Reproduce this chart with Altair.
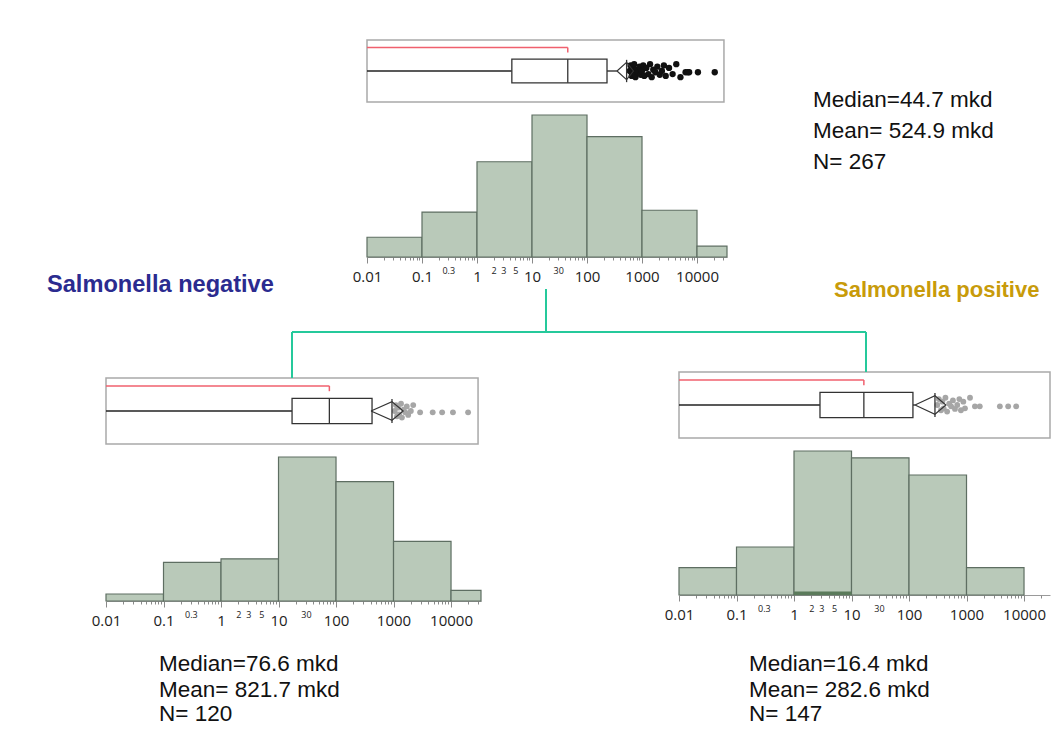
import altair as alt
import pandas as pd

W, H = 1044, 719
M = 8  # page margin

# ---------------- data ----------------
bin_lo = [0.01, 0.1, 1, 10, 100, 1000, 10000]
bin_hi = [0.1, 1, 10, 100, 1000, 10000, 100000]
counts_all = [11, 25, 53, 79, 67, 26, 6]
counts_neg = [2, 11, 12, 41, 34, 17, 3]
counts_pos = [8, 14, 42, 40, 35, 8, 0]
counts_pos_sel = [0, 0, 1, 0, 0, 0, 0]

major_ticks = [0.01, 0.1, 1, 10, 100, 1000, 10000]
minor_mult = [2, 3, 4, 5, 6, 7, 8, 9]
small_labels = [0.3, 2, 3, 5, 30]

# min, q1, median, q3, upper whisker, mean-diamond low, mean, mean-diamond high
box_keys = ["mn", "q1", "med", "q3", "whi", "cil", "mean", "cih"]
box_all = [0.005, 4.3, 44.7, 231, 351, 351, 524.9, 699]
box_neg = [0.005, 17.2, 76.6, 423, 423, 406, 940, 1474]
box_pos = [0.005, 2.83, 16.4, 117, 127, 127, 282.6, 438]

out_all = [600, 620, 650, 680, 700, 720, 760, 800, 850, 900, 950, 1000, 1050, 1100,
           1200, 1300, 1400, 1500, 1600, 1750, 1900, 2100, 2300, 2500, 2700, 3100,
           3600, 4200, 5000, 6200, 6800, 7200, 10400, 21000]
out_neg = [1050, 1100, 1150, 1200, 1250, 1350, 1400, 1500, 1600, 1700, 1800, 2000,
           2200, 2900, 4800, 7000, 10800, 19800]
out_pos = [310, 330, 360, 380, 400, 430, 460, 500, 540, 580, 630, 690, 750, 800, 880,
           940, 1150, 1400, 1700, 3800, 5300, 7300]

stats_all = ["Median=44.7 mkd", "Mean= 524.9 mkd", "N= 267"]
stats_neg = ["Median=76.6 mkd", "Mean= 821.7 mkd", "N= 120"]
stats_pos = ["Median=16.4 mkd", "Mean= 282.6 mkd", "N= 147"]

title_neg = "Salmonella negative"
title_pos = "Salmonella positive"

# ---------------- styles ----------------
HIST_FILL = "#B9C9B9"
HIST_STROKE = "#5E6E62"
SEL_FILL = "#5B7B5B"
RED = "#F0606E"
TEAL = "#25C99B"
AXIS_FONT = "Open Sans"
TEXT_FONT = "Liberation Sans"
JIT = [0, 0.09, -0.08, 0.05, -0.05, 0.11, -0.1, 0.02, -0.02, 0.07, -0.06]


def panel(counts, sel_counts, box, outs, n_cluster, dmax, px0, px1, base, top,
          fb, ft, frame_right, pt_color, pt_size):
    xr = [px0 - M, px1 - M]

    def xs():
        return alt.Scale(type="log", domain=[0.01, dmax], range=xr,
                         clamp=True, nice=False)

    ys_h = alt.Scale(domain=[0, max(counts)], range=[base - M, top - M], nice=False)
    ys_b = alt.Scale(domain=[0, 1], range=[fb - M, ft - M], nice=False)
    off = base - M - H
    ax_common = dict(orient="bottom", offset=off, grid=False, title=None,
                     labelFlush=False, labelOverlap=False, labelBound=False,
                     domainColor="#9A9A9A", tickColor="#8A8A8A")
    minor = [m * d for d in major_ticks for m in minor_mult if m * d <= dmax]

    layers = []
    hist_df = pd.DataFrame({"lo": bin_lo, "hi": bin_hi, "count": counts, "zero": 0})
    hist_df = hist_df[hist_df["count"] > 0]
    layers.append(
        alt.Chart(hist_df).mark_rect(fill=HIST_FILL, stroke=HIST_STROKE, strokeWidth=1.2)
        .encode(
            x=alt.X("lo:Q", scale=xs(), axis=alt.Axis(
                values=major_ticks, labelExpr="format(datum.value, '~g')",
                tickSize=6, labelFontSize=15, labelFont=AXIS_FONT,
                labelColor="#222222", labelPadding=6, **ax_common)),
            x2="hi:Q",
            y=alt.Y("count:Q", scale=ys_h, axis=None),
            y2="zero:Q",
        )
    )
    sel_df = pd.DataFrame({"lo": bin_lo, "hi": bin_hi, "count": sel_counts, "zero": 0})
    sel_df = sel_df[sel_df["count"] > 0]
    if len(sel_df):
        layers.append(
            alt.Chart(sel_df).mark_rect(fill=SEL_FILL).encode(
                x=alt.X("lo:Q", scale=xs(), axis=None), x2="hi:Q",
                y=alt.Y("count:Q", scale=ys_h, axis=None), y2="zero:Q")
        )
    layers.append(
        alt.Chart(pd.DataFrame({"t": minor})).mark_tick(opacity=0).encode(
            x=alt.X("t:Q", scale=xs(), axis=alt.Axis(
                values=minor, labels=False, domain=False, tickSize=3, **ax_common)))
    )
    layers.append(
        alt.Chart(pd.DataFrame({"t": small_labels})).mark_tick(opacity=0).encode(
            x=alt.X("t:Q", scale=xs(), axis=alt.Axis(
                values=small_labels, labelExpr="format(datum.value, '~g')",
                ticks=False, domain=False, labelFontSize=9, labelFont=AXIS_FONT,
                labelColor="#222222", labelPadding=9, **ax_common)))
    )

    bdf = pd.DataFrame([dict(zip(box_keys, box))])
    # frame
    layers.append(
        alt.Chart(bdf).mark_rect(fill="white", stroke="#A9A9A9", strokeWidth=1.5).encode(
            x=alt.XDatum(0.01, scale=xs(), axis=None), x2=alt.X2Datum(frame_right),
            y=alt.YDatum(0, scale=ys_b, axis=None), y2=alt.Y2Datum(1))
    )
    # red bracket
    layers.append(
        alt.Chart(bdf).mark_rule(color=RED, strokeWidth=1.5).encode(
            x=alt.X("mn:Q", scale=xs(), axis=None), x2="med:Q",
            y=alt.YDatum(0.88, scale=ys_b, axis=None))
    )
    layers.append(
        alt.Chart(bdf).mark_rule(color=RED, strokeWidth=1.5).encode(
            x=alt.X("med:Q", scale=xs(), axis=None),
            y=alt.YDatum(0.88, scale=ys_b, axis=None), y2=alt.Y2Datum(0.80))
    )
    # whiskers
    layers.append(
        alt.Chart(bdf).mark_rule(color="#222", strokeWidth=1.3).encode(
            x=alt.X("mn:Q", scale=xs(), axis=None), x2="q1:Q",
            y=alt.YDatum(0.5, scale=ys_b, axis=None))
    )
    layers.append(
        alt.Chart(bdf).mark_rule(color="#222", strokeWidth=1.3).encode(
            x=alt.X("q3:Q", scale=xs(), axis=None), x2="whi:Q",
            y=alt.YDatum(0.5, scale=ys_b, axis=None))
    )
    # box
    layers.append(
        alt.Chart(bdf).mark_rect(fill="white", stroke="#333", strokeWidth=1.3).encode(
            x=alt.X("q1:Q", scale=xs(), axis=None), x2="q3:Q",
            y=alt.YDatum(0.31, scale=ys_b, axis=None), y2=alt.Y2Datum(0.69))
    )
    layers.append(
        alt.Chart(bdf).mark_rule(color="#333", strokeWidth=1.3).encode(
            x=alt.X("med:Q", scale=xs(), axis=None),
            y=alt.YDatum(0.31, scale=ys_b, axis=None), y2=alt.Y2Datum(0.69))
    )
    # outlier points (clustered ones jittered vertically)
    pdf = pd.DataFrame({"v": outs})
    pdf["yy"] = [0.5 + (JIT[i % len(JIT)] if i < n_cluster else -0.02)
                 for i in range(len(outs))]
    layers.append(
        alt.Chart(pdf).mark_circle(color=pt_color, opacity=1, size=pt_size).encode(
            x=alt.X("v:Q", scale=xs(), axis=None),
            y=alt.Y("yy:Q", scale=ys_b, axis=None))
    )
    # mean diamond
    ddf = pd.DataFrame({
        "x": [box[5], box[6], box[7], box[6], box[5]],
        "y": [0.5, 0.64, 0.5, 0.36, 0.5],
        "o": [0, 1, 2, 3, 4],
    })
    layers.append(
        alt.Chart(ddf).mark_line(color="#333", strokeWidth=1.1).encode(
            x=alt.X("x:Q", scale=xs(), axis=None),
            y=alt.Y("y:Q", scale=ys_b, axis=None), order="o:Q")
    )
    layers.append(
        alt.Chart(bdf).mark_rule(color="#333", strokeWidth=1.3).encode(
            x=alt.X("mean:Q", scale=xs(), axis=None),
            y=alt.YDatum(0.32, scale=ys_b, axis=None), y2=alt.Y2Datum(0.68))
    )
    return layers


layers = []
layers += panel(counts_all, [0] * 7, box_all, out_all, 29, 35100, 367, 727, 257, 115,
                102, 40, 30900, "#111111", 40)
layers += panel(counts_neg, [0] * 7, box_neg, out_neg, 13, 33200, 106, 481, 601, 457,
                444, 378, 29500, "#A6A6A6", 34)
layers += panel(counts_pos, counts_pos_sel, box_pos, out_pos, 17, 28300, 679, 1050, 595, 451,
                438, 372, 28300, "#A6A6A6", 34)

dummy = pd.DataFrame({"a": [0]})

# tree connectors
for (x1, y1, x2, y2) in [(546, 289, 546, 332), (292, 332, 866, 332),
                         (292, 332, 292, 378), (866, 332, 866, 372)]:
    enc = dict(x=alt.value(x1 - M), y=alt.value(y1 - M))
    if x1 != x2:
        enc["x2"] = alt.value(x2 - M)
    else:
        enc["y2"] = alt.value(y2 - M)
    layers.append(alt.Chart(dummy).mark_rule(color=TEAL, strokeWidth=2).encode(**enc))

# stats texts (one mark per line)
for lines, x, ys in [(stats_all, 813, [107, 138, 169]),
                     (stats_neg, 159, [671, 697, 721]),
                     (stats_pos, 749, [671, 697, 721])]:
    for line, y in zip(lines, ys):
        layers.append(
            alt.Chart(dummy).mark_text(align="left", baseline="alphabetic", font=TEXT_FONT,
                                       fontSize=22.5, color="#111111")
            .encode(x=alt.value(x - M), y=alt.value(y - M), text=alt.value(line))
        )

# group titles
for t, x, y, c, fs in [(title_neg, 47, 292, "#2B2B8F", 23.6),
                       (title_pos, 834, 297, "#C89B0A", 22)]:
    layers.append(
        alt.Chart(dummy).mark_text(align="left", baseline="alphabetic", font=TEXT_FONT,
                                   fontSize=fs, fontWeight="bold", color=c)
        .encode(x=alt.value(x - M), y=alt.value(y - M), text=alt.value(t))
    )

chart = (
    alt.layer(*layers)
    .resolve_scale(x="independent", y="independent")
    .properties(width=W, height=H, padding=0,
                autosize=alt.AutoSizeParams(type="none"))
    .configure_view(stroke=None)
    .configure_axis(grid=False)
)

chart.save("out.html", embed_options={"renderer": "svg", "actions": False})
